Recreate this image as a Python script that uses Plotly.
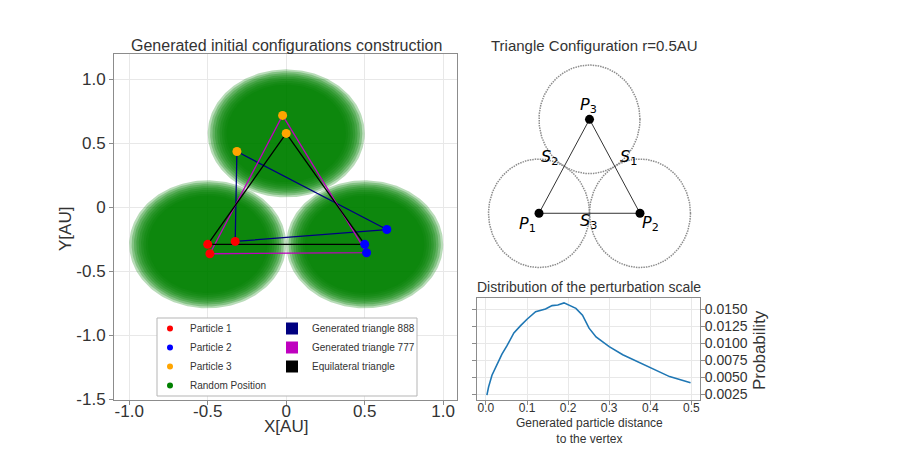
import numpy as np
import plotly.graph_objects as go

# page body has an 8px margin; figure is sized so the page does not scroll
OFF = 8
W, H = 897, 441

# ---------------- data ----------------
particle_names = ["Particle 1", "Particle 2", "Particle 3"]
particle_colors = ["red", "blue", "orange"]

equi_x = [-0.5, 0.5, 0.0]
equi_y = [-0.2887, -0.2887, 0.5774]
tri888_x = [-0.325, 0.641, -0.314]
tri888_y = [-0.266, -0.173, 0.436]
tri777_x = [-0.486, 0.512, -0.023]
tri777_y = [-0.362, -0.354, 0.718]
region_radius = 0.5

main_xticks = [-1.0, -0.5, 0.0, 0.5, 1.0]
main_xticklabels = ["-1.0", "-0.5", "0", "0.5", "1.0"]
main_yticks = [-1.5, -1.0, -0.5, 0.0, 0.5, 1.0]
main_yticklabels = ["-1.5", "-1.0", "-0.5", "0", "0.5", "1.0"]

cfg_x = [0.0, 1.0, 0.5]
cfg_y = [0.0, 0.0, 0.866]
cfg_radius = 0.5
cfg_point_labels = ["<i>P</i><sub>1</sub>", "<i>P</i><sub>2</sub>", "<i>P</i><sub>3</sub>"]
cfg_side_labels = ["<i>S</i><sub>1</sub>", "<i>S</i><sub>2</sub>", "<i>S</i><sub>3</sub>"]

dist_x = [0.0024, 0.0065, 0.0147, 0.027, 0.039, 0.051, 0.068, 0.085, 0.100, 0.121,
          0.145, 0.161, 0.175, 0.190, 0.202, 0.219, 0.235, 0.243, 0.251, 0.268,
          0.300, 0.333, 0.365, 0.398, 0.447, 0.498]
dist_y = [0.0024, 0.0036, 0.0053, 0.0070, 0.0084, 0.0096, 0.0115, 0.0126, 0.0135, 0.0146,
          0.0150, 0.0155, 0.0156, 0.0159, 0.0156, 0.0151, 0.0141, 0.0131, 0.0122, 0.0109,
          0.0095, 0.0083, 0.0074, 0.0064, 0.0051, 0.0042]
dist_xticks = [0.0, 0.1, 0.2, 0.3, 0.4, 0.5]
dist_xticklabels = ["0.0", "0.1", "0.2", "0.3", "0.4", "0.5"]
dist_yticks = [0.0025, 0.0050, 0.0075, 0.0100, 0.0125, 0.0150]
dist_yticklabels = ["0.0025", "0.0050", "0.0075", "0.0100", "0.0125", "0.0150"]

# ---------------- helpers ----------------
def px_x(p):
    return (p - OFF) / W

def px_y(p):
    return 1 - (p - OFF) / H

FONT = "Liberation Sans, Arial, sans-serif"
TXT = "#333333"
theta = np.linspace(0, 2 * np.pi, 241)

def circles(xs, ys, r):
    cx, cy = [], []
    for x0, y0 in zip(xs, ys):
        cx += list(x0 + r * np.cos(theta)) + [None]
        cy += list(y0 + r * np.sin(theta)) + [None]
    return cx, cy

def closed(a):
    return list(a) + [a[0]]

fig = go.Figure()

# ---- green random-position discs (layered for density fade) ----
for frac in [1.0, 0.97, 0.94, 0.91, 0.88, 0.85, 0.82, 0.79, 0.76]:
    cx, cy = circles(equi_x, equi_y, region_radius * frac)
    fig.add_trace(go.Scatter(x=cx, y=cy, mode="lines", fill="toself",
                             fillcolor="rgba(0,128,0,0.28)", line=dict(width=0),
                             hoverinfo="skip", showlegend=False, xaxis="x", yaxis="y"))

# ---- triangles ----
tri_sets = [(tri888_x, tri888_y, "#000080"), (tri777_x, tri777_y, "#bf00bf"),
            (equi_x, equi_y, "black")]
for tx, ty, col in tri_sets:
    fig.add_trace(go.Scatter(x=closed(tx), y=closed(ty), mode="lines",
                             line=dict(color=col, width=1.3), showlegend=False,
                             xaxis="x", yaxis="y"))

# ---- particles ----
for i, (name, col) in enumerate(zip(particle_names, particle_colors)):
    px_ = [tri888_x[i], tri777_x[i], equi_x[i]]
    py_ = [tri888_y[i], tri777_y[i], equi_y[i]]
    fig.add_trace(go.Scatter(x=px_, y=py_, mode="markers",
                             marker=dict(color=col, size=9), showlegend=False,
                             xaxis="x", yaxis="y"))

# ---- legend entries ----
for name, col in zip(particle_names, particle_colors):
    fig.add_trace(go.Scatter(x=[None], y=[None], mode="markers", name=name,
                             marker=dict(color=col, size=6), legend="legend",
                             xaxis="x", yaxis="y"))
fig.add_trace(go.Scatter(x=[None], y=[None], mode="markers", name="Random Position",
                         marker=dict(color="green", size=6), legend="legend",
                         xaxis="x", yaxis="y"))
for name, col in zip(["Generated triangle 888", "Generated triangle 777", "Equilateral triangle"],
                     ["#000080", "#bf00bf", "black"]):
    fig.add_trace(go.Scatter(x=[None], y=[None], mode="markers", name=name,
                             marker=dict(color=col, size=12, symbol="square"),
                             legend="legend2", xaxis="x", yaxis="y"))

# ---- configuration diagram ----
ccx, ccy = circles(cfg_x, cfg_y, cfg_radius)
fig.add_trace(go.Scatter(x=ccx, y=ccy, mode="lines",
                         line=dict(color="#8c8c8c", width=1.5, dash="1.5px,1px"),
                         showlegend=False, xaxis="x2", yaxis="y2"))
fig.add_trace(go.Scatter(x=closed(cfg_x), y=closed(cfg_y), mode="lines",
                         line=dict(color="#333333", width=1), showlegend=False,
                         xaxis="x2", yaxis="y2"))
fig.add_trace(go.Scatter(x=cfg_x, y=cfg_y, mode="markers",
                         marker=dict(color="black", size=9), showlegend=False,
                         xaxis="x2", yaxis="y2"))

# ---- distribution curve ----
fig.add_trace(go.Scatter(x=dist_x, y=dist_y, mode="lines",
                         line=dict(color="#1f77b4", width=1.6), showlegend=False,
                         xaxis="x3", yaxis="y3"))

# ---------------- layout ----------------
axis_common = dict(showgrid=True, gridcolor="#e8e8e8", zeroline=False, showline=True,
                   linecolor="#8c8c8c", linewidth=1, mirror=True, ticks="outside",
                   ticklen=4, tickcolor="#8c8c8c", automargin=False)

annotations = []
def label(text, x, y, size, **kw):
    d = dict(text=text, x=x, y=y, xref="paper", yref="paper", showarrow=False,
             xanchor="center", yanchor="middle",
             font=dict(size=size, color=TXT, family=FONT))
    d.update(kw)
    annotations.append(d)

label("Generated initial configurations construction", px_x(286), px_y(45), 16)
label("X[AU]", px_x(286), px_y(426), 17)
label("Y[AU]", px_x(66), px_y(229), 17, textangle=-90)
label("Triangle Configuration r=0.5AU", px_x(594), px_y(45), 15)
label("Distribution of the perturbation scale", px_x(589), px_y(287), 14)
label("Generated particle distance<br>to the vertex", px_x(589), px_y(431), 12)
label("Probability", px_x(759), px_y(350), 17, textangle=-90)

# labels in configuration diagram (data coordinates of subplot 2)
cfg_label_dx = [-0.11, 0.10, -0.01]
cfg_label_dy = [-0.10, -0.09, 0.13]
for i, t in enumerate(cfg_point_labels):
    annotations.append(dict(text=t, x=cfg_x[i] + cfg_label_dx[i], y=cfg_y[i] + cfg_label_dy[i],
                            xref="x2", yref="y2", showarrow=False,
                            xanchor="center", yanchor="middle",
                            font=dict(size=16, color="black", family="DejaVu Sans")))
side_pos_x = [0.89, 0.10, 0.49]
side_pos_y = [0.51, 0.51, -0.08]
for i, t in enumerate(cfg_side_labels):
    annotations.append(dict(text=t, x=side_pos_x[i], y=side_pos_y[i],
                            xref="x2", yref="y2", showarrow=False,
                            xanchor="center", yanchor="middle",
                            font=dict(size=16, color="black", family="DejaVu Sans")))

fig.update_layout(
    width=W, height=H, margin=dict(l=0, r=0, t=0, b=0, pad=0, autoexpand=False),
    paper_bgcolor="white", plot_bgcolor="white",
    font=dict(family=FONT, color=TXT),
    xaxis=dict(domain=[px_x(114), px_x(457.3)], range=[-1.097, 1.09],
               tickvals=main_xticks, ticktext=main_xticklabels, ticklabelstandoff=-8,
               tickfont=dict(size=17, color=TXT, family=FONT), anchor="y", **axis_common),
    yaxis=dict(domain=[px_y(399.5), px_y(54.3)], range=[-1.5, 1.195],
               tickvals=main_yticks, ticktext=main_yticklabels,
               tickfont=dict(size=17, color=TXT, family=FONT), anchor="x", **axis_common),
    xaxis2=dict(domain=[px_x(486.5), px_x(692.5)], range=[-0.52, 1.52], visible=False,
                anchor="y2"),
    yaxis2=dict(domain=[px_y(269.7), px_y(62.9)], range=[-0.52, 1.386], visible=False,
                anchor="x2"),
    xaxis3=dict(domain=[px_x(477.3), px_x(700)], range=[-0.021, 0.521],
                tickvals=dist_xticks, ticktext=dist_xticklabels, ticklabelstandoff=-7,
                tickfont=dict(size=12, color=TXT, family=FONT), anchor="y3", **axis_common),
    yaxis3=dict(domain=[px_y(399.5), px_y(298.3)], range=[0.00175, 0.01657],
                tickvals=dist_yticks, ticktext=dist_yticklabels, side="right",
                ticklabelstandoff=-3,
                tickfont=dict(size=14, color=TXT, family=FONT), anchor="x3",
                **{k: ("allticks" if k == "mirror" else v) for k, v in axis_common.items()}),
    legend=dict(x=px_x(150), y=px_y(314), xanchor="left", yanchor="top",
                bgcolor="rgba(0,0,0,0)", borderwidth=0,
                font=dict(size=10, color=TXT, family=FONT), tracegroupgap=0),
    legend2=dict(x=px_x(272), y=px_y(314), xanchor="left", yanchor="top",
                 bgcolor="rgba(0,0,0,0)", borderwidth=0,
                 font=dict(size=10, color=TXT, family=FONT), tracegroupgap=0),
    shapes=[dict(type="rect", xref="paper", yref="paper",
                 x0=px_x(157), x1=px_x(417), y0=px_y(396), y1=px_y(318),
                 line=dict(color="#b5b5b5", width=1), fillcolor="white", layer="above")],
    annotations=annotations,
)

fig.write_html("out.html")
